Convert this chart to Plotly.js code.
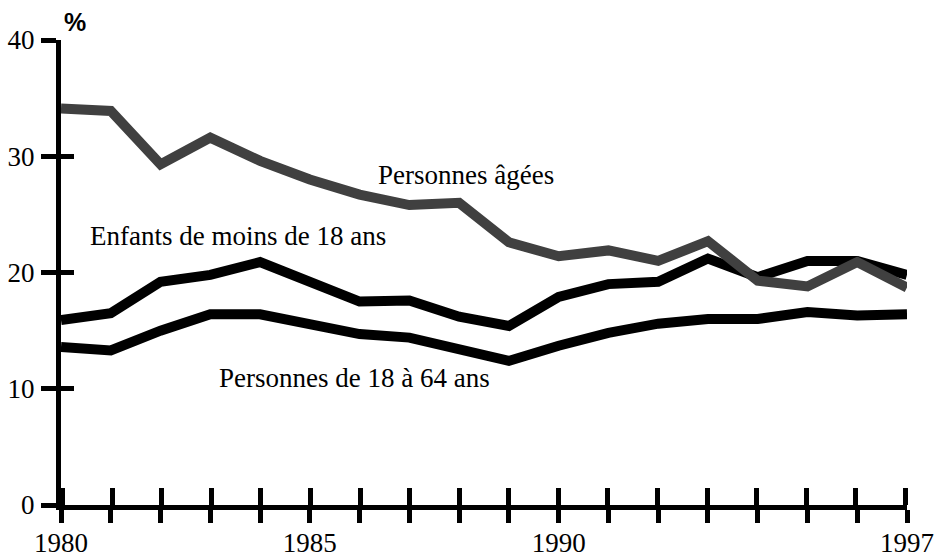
<!DOCTYPE html>
<html><head><meta charset="utf-8">
<script src="https://cdn.plot.ly/plotly-3.0.1.min.js"></script>
<style>html,body{margin:0;padding:0;background:#fff}#chart{width:935px;height:556px}</style>
</head><body><div id="chart"></div>
<script>
var years = [1980,1981,1982,1983,1984,1985,1986,1987,1988,1989,1990,1991,1992,1993,1994,1995,1996,1997];
var agees   = [34.1,33.9,29.3,31.6,29.6,28.0,26.7,25.8,26.0,22.6,21.4,21.9,21.0,22.7,19.3,18.8,20.9,18.7];
var enfants = [15.9,16.5,19.2,19.8,20.9,19.3,17.5,17.6,16.2,15.4,17.9,19.0,19.2,21.2,19.6,21.0,21.0,19.8];
var adultes = [13.6,13.3,15.0,16.4,16.4,15.6,14.7,14.4,13.5,12.4,13.7,14.8,15.6,16.0,16.0,16.6,16.3,16.4];
var xTickLabels = ["1980","","","","","1985","","","","","1990","","","","","","","1997"];
var yTicks = [0,10,20,30,40];
var seriesNames = ["Personnes âgées","Enfants de moins de 18 ans","Personnes de 18 à 64 ans"];
var labelPos = {x:[1988.13,1983.55,1985.89], y:[28.4,23.15,10.96]};

var serif = "Liberation Serif, Times New Roman, serif";
var traces = [
  {x:years, y:adultes, mode:"lines", line:{color:"#000",width:10}, name:seriesNames[2]},
  {x:years, y:enfants, mode:"lines", line:{color:"#000",width:10}, name:seriesNames[1]},
  {x:years, y:agees, mode:"lines", line:{color:"#404040",width:10}, name:seriesNames[0]},
  {x:[years[0]], y:[0], xaxis:"x2", yaxis:"y2", mode:"markers", marker:{opacity:0}, hoverinfo:"skip", showlegend:false}
];
var annotations = seriesNames.map(function(n,i){
  return {x:labelPos.x[i], y:labelPos.y[i], xref:"x", yref:"y", text:n, showarrow:false,
    xanchor:"center", yanchor:"middle", font:{family:serif, size:27, color:"#000"}};
});
annotations.push({xref:"paper", yref:"paper", x:0.016, y:1.0, yanchor:"bottom", xanchor:"center",
  text:"<b>%</b>", showarrow:false, font:{family:"Liberation Sans, Arial, sans-serif", size:25, color:"#000"}, yshift:2});

var layout = {
  width:935, height:556, showlegend:false,
  paper_bgcolor:"#fff", plot_bgcolor:"#fff",
  margin:{l:61, r:28, t:40, b:51},
  xaxis:{range:[1980,1997], tickmode:"array", tickvals:years, ticktext:xTickLabels, ticks:"outside", ticklen:13, tickwidth:5, tickcolor:"#000",
    showline:true, linewidth:5, linecolor:"#000", showgrid:false, zeroline:false, ticklabeloverflow:"allow",
    tickfont:{family:serif, size:27, color:"#000"}, ticklabelstandoff:-3},
  yaxis:{range:[0,40], tickmode:"array", tickvals:yTicks, ticks:"outside", ticklen:15, tickwidth:5, tickcolor:"#000",
    showline:true, linewidth:5, linecolor:"#000", showgrid:false, zeroline:false, ticklabeloverflow:"allow",
    tickfont:{family:serif, size:27, color:"#000"}, ticklabelstandoff:1},
  xaxis2:{overlaying:"x", anchor:"y2", range:[1979.97,1997.03], tickmode:"array", tickvals:years, ticks:"inside", ticklen:17, tickwidth:5, tickcolor:"#000",
    showticklabels:false, showline:false, showgrid:false, zeroline:false, side:"bottom"},
  yaxis2:{overlaying:"y", anchor:"x2", range:[-0.06,40.06], tickmode:"array", tickvals:yTicks, ticks:"inside", ticklen:13, tickwidth:5, tickcolor:"#000",
    showticklabels:false, showline:false, showgrid:false, zeroline:false, side:"left"},
  annotations:annotations
};
Plotly.newPlot("chart", traces, layout, {displayModeBar:false, staticPlot:true});
</script></body></html>
